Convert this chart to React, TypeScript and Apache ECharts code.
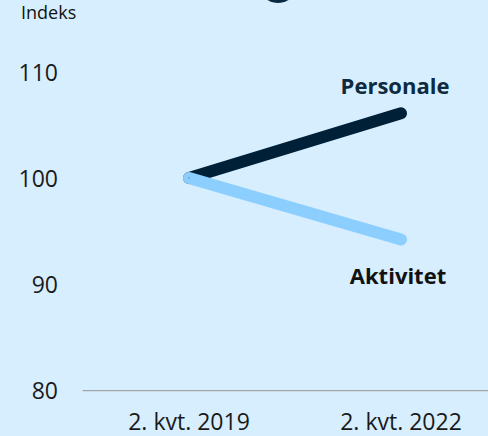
import React, { useEffect, useRef } from "react";
import * as echarts from "echarts";

const categories = ["2. kvt. 2019", "2. kvt. 2022"];
const personale = [100, 106.1];
const aktivitet = [100, 94.2];
const yTicks = [80, 90, 100, 110];

export default function App() {
  const ref = useRef<HTMLDivElement>(null);
  useEffect(() => {
    if (!ref.current) return;
    const chart = echarts.init(ref.current, undefined, { renderer: "svg" });
    const font = "Open Sans";
    const lastLabel = (text: string, pos: string, dist: number, dx: number, color: string) => ({
      show: true,
      position: pos,
      distance: dist,
      offset: [dx, 0],
      formatter: text,
      fontSize: 22,
      fontWeight: "bold",
      color,
      fontFamily: font,
    });
    chart.setOption({
      animation: false,
      backgroundColor: "#d7eefe",
      textStyle: { fontFamily: font },
      grid: { left: 83, right: -19, top: 72, bottom: 46, outerBoundsMode: "none", containLabel: false },
      graphic: [
        {
          type: "circle",
          shape: { cx: 278, cy: -17, r: 20 },
          style: { fill: "#0a2a42" },
        },
        {
          type: "text",
          left: 21,
          top: 3,
          style: { text: "Indeks", fontSize: 18, fill: "#111", fontFamily: font },
        },
      ],
      xAxis: {
        type: "category",
        data: categories,
        boundaryGap: true,
        axisLine: { show: true, lineStyle: { color: "#a3a6a9", width: 1.25 } },
        axisTick: { show: false },
        axisLabel: { fontSize: 23, color: "#1a1a1a", margin: 19, fontFamily: font },
      },
      yAxis: {
        type: "value",
        min: yTicks[0],
        max: yTicks[yTicks.length - 1],
        interval: 10,
        splitLine: { show: false },
        axisLine: { show: false },
        axisTick: { show: false },
        axisLabel: { fontSize: 23, color: "#1a1a1a", margin: 25, fontFamily: font },
      },
      series: [
        {
          name: "Personale",
          type: "line",
          data: personale.map((v, i) =>
            i === personale.length - 1
              ? { value: v, label: lastLabel("Personale", "top", 17, -6, "#0e2a40") }
              : v
          ),
          symbol: "circle",
          symbolSize: 1,
          showSymbol: true,
          lineStyle: { color: "#002038", width: 12, cap: "round", join: "round" },
          itemStyle: { color: "#002038" },
        },
        {
          name: "Aktivitet",
          type: "line",
          data: aktivitet.map((v, i) =>
            i === aktivitet.length - 1
              ? { value: v, label: lastLabel("Aktivitet", "bottom", 24, -3, "#111111") }
              : v
          ),
          symbol: "circle",
          symbolSize: 1,
          showSymbol: true,
          lineStyle: { color: "#8ccfff", width: 12, cap: "round", join: "round" },
          itemStyle: { color: "#8ccfff" },
        },
      ],
    });
    return () => chart.dispose();
  }, []);
  return (
    <div
      ref={ref}
      style={{ position: "fixed", left: 0, top: 0, width: 488, height: 436 }}
    />
  );
}
